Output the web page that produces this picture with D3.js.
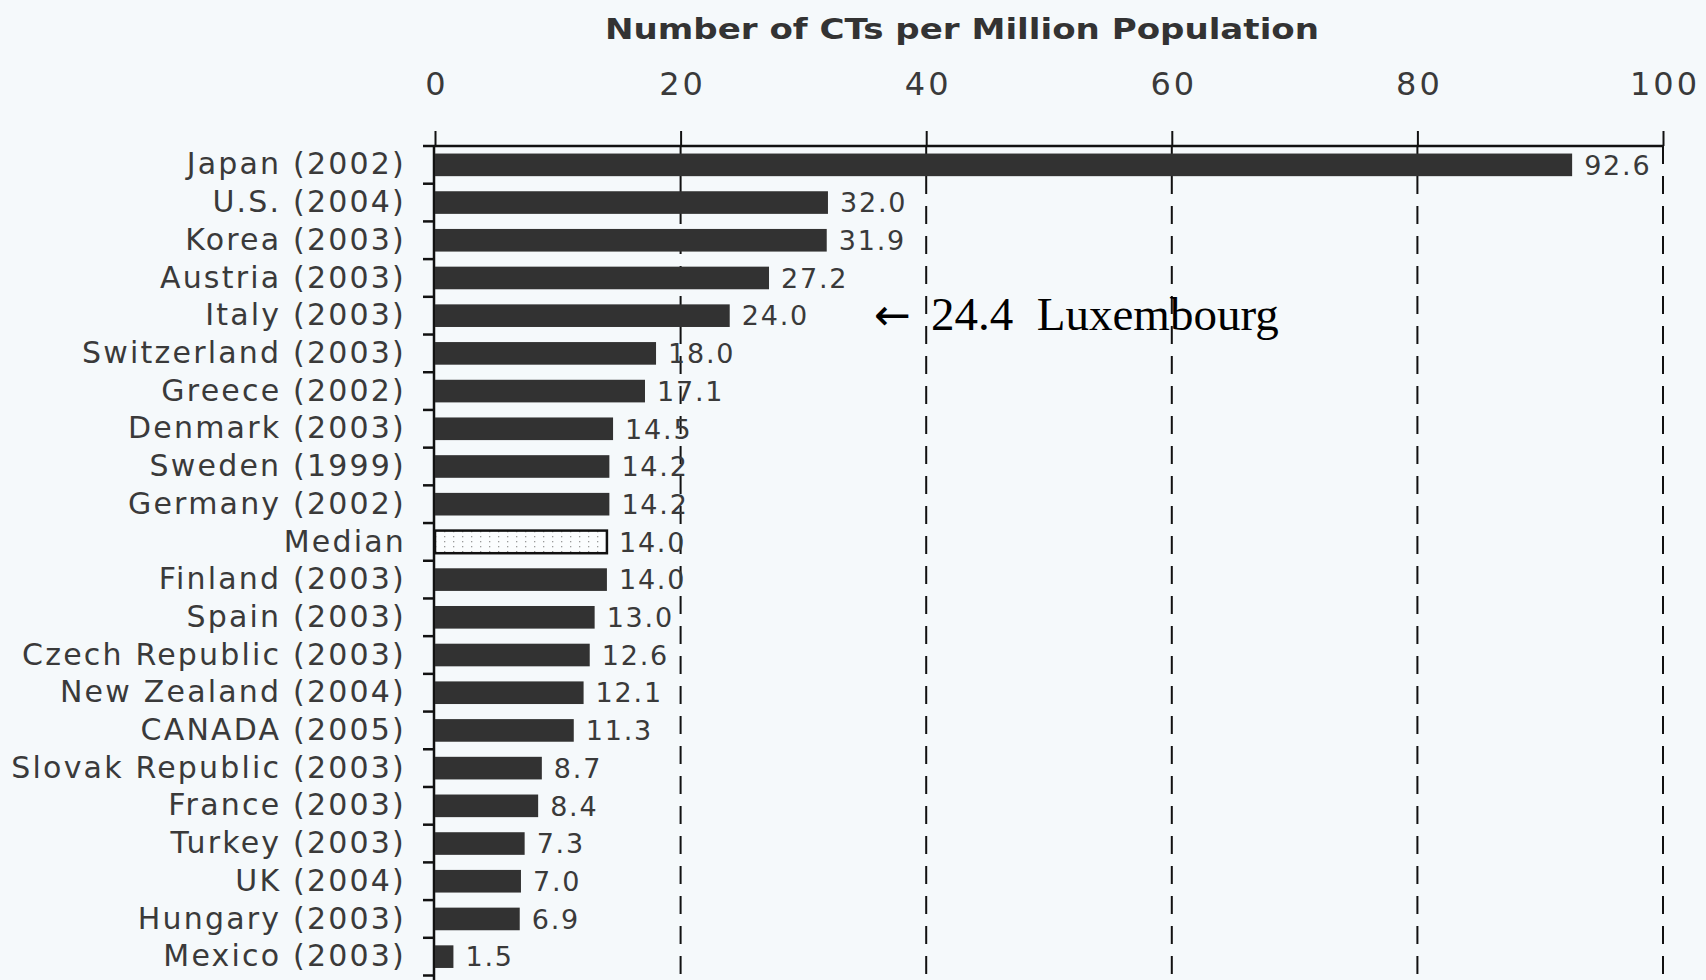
<!DOCTYPE html>
<html>
<head>
<meta charset="utf-8">
<script src="https://cdn.jsdelivr.net/npm/d3@7"></script>
<style>
  html, body { margin: 0; padding: 0; background: #f5f9fb; }
  svg { display: block; }
</style>
</head>
<body>
<script>
// ---- data ----
const categories = [
  "Japan (2002)", "U.S. (2004)", "Korea (2003)", "Austria (2003)", "Italy (2003)",
  "Switzerland (2003)", "Greece (2002)", "Denmark (2003)", "Sweden (1999)", "Germany (2002)",
  "Median", "Finland (2003)", "Spain (2003)", "Czech Republic (2003)", "New Zealand (2004)",
  "CANADA (2005)", "Slovak Republic (2003)", "France (2003)", "Turkey (2003)", "UK (2004)",
  "Hungary (2003)", "Mexico (2003)"
];
const values = [
  92.6, 32.0, 31.9, 27.2, 24.0,
  18.0, 17.1, 14.5, 14.2, 14.2,
  14.0, 14.0, 13.0, 12.6, 12.1,
  11.3, 8.7, 8.4, 7.3, 7.0,
  6.9, 1.5
];
const medianCategory = "Median";
const xTicks = [0, 20, 40, 60, 80, 100];
const title = "Number of CTs per Million Population";
const annotationValue = 24.4;
const annotationLabel = "Luxembourg";
const annotationRow = "Italy (2003)";

// ---- layout ----
const W = 1706, H = 980;
const svg = d3.select("body").append("svg").attr("width", W).attr("height", H);
svg.append("rect").attr("width", W).attr("height", H).attr("fill", "#f5f9fb");

const x = d3.scaleLinear().domain([0, 100]).range([435, 1663]);
const y = d3.scaleBand().domain(categories).range([146, 975.5]).paddingInner(0.4).paddingOuter(0.2);
const step = y.step();
const axisY = 146;
const ink = "#3a3a3a";

const defs = svg.append("defs");
const pat = defs.append("pattern").attr("id", "dots").attr("patternUnits", "userSpaceOnUse")
  .attr("width", 9).attr("height", 5);
pat.append("rect").attr("width", 9).attr("height", 5).attr("fill", "#fbfdfe");
pat.append("rect").attr("x", 3).attr("y", 1).attr("width", 1.3).attr("height", 1.3).attr("fill", "#9a9a9a");

// title
svg.append("text")
  .attr("x", 605).attr("y", 39)
  .attr("textLength", 714).attr("lengthAdjust", "spacingAndGlyphs")
  .attr("font-family", "DejaVu Sans").attr("font-weight", "bold")
  .attr("font-size", 28).attr("fill", "#333")
  .text(title);

// dashed grid lines
svg.append("g").selectAll("line").data(xTicks.filter(d => d > 0)).join("line")
  .attr("x1", d => x(d)).attr("x2", d => x(d))
  .attr("y1", axisY).attr("y2", H)
  .attr("stroke", "#111").attr("stroke-width", 2)
  .attr("stroke-dasharray", "18,12");

// top axis
const topAxis = d3.axisTop(x).tickValues(xTicks).tickSize(15).tickPadding(36).tickSizeOuter(0)
  .tickFormat(d3.format("d"));
const gTop = svg.append("g").attr("transform", `translate(0,${axisY})`).call(topAxis);
gTop.select(".domain").remove();
gTop.selectAll(".tick line").attr("stroke", "#111").attr("stroke-width", 2);
gTop.selectAll(".tick text")
  .attr("font-family", "DejaVu Sans").attr("font-size", 32)
  .attr("letter-spacing", 3).attr("fill", ink).attr("dx", 1.5);

// top axis line (extends left like a tick)
svg.append("line").attr("x1", 423).attr("x2", x(100)).attr("y1", axisY).attr("y2", axisY)
  .attr("stroke", "#111").attr("stroke-width", 2.5);

// left axis line
svg.append("line").attr("x1", x(0) - 1).attr("x2", x(0) - 1).attr("y1", axisY).attr("y2", H)
  .attr("stroke", "#111").attr("stroke-width", 2.5);

// left boundary ticks between rows
svg.append("g").selectAll("line").data(categories).join("line")
  .attr("x1", 423).attr("x2", x(0))
  .attr("y1", d => y(d) + y.bandwidth() + step * 0.2)
  .attr("y2", d => y(d) + y.bandwidth() + step * 0.2)
  .attr("stroke", "#111").attr("stroke-width", 2.5);

// category labels
const leftAxis = d3.axisLeft(y).tickSize(0).tickPadding(29);
const gLeft = svg.append("g").attr("transform", `translate(${x(0)},0)`).call(leftAxis);
gLeft.select(".domain").remove();
gLeft.selectAll(".tick text")
  .attr("font-family", "DejaVu Sans").attr("font-size", 30)
  .attr("letter-spacing", 2.2).attr("fill", ink);

// bars
const rows = categories.map((c, i) => ({ c, v: values[i] }));
svg.append("g").selectAll("rect").data(rows).join("rect")
  .attr("x", x(0)).attr("y", d => y(d.c))
  .attr("width", d => x(d.v) - x(0)).attr("height", y.bandwidth())
  .attr("fill", d => d.c === medianCategory ? "url(#dots)" : "#323232")
  .attr("stroke", d => d.c === medianCategory ? "#111" : "none")
  .attr("stroke-width", 2.5);

// value labels
svg.append("g").selectAll("text").data(rows).join("text")
  .attr("x", d => x(d.v) + 12).attr("y", d => y(d.c) + y.bandwidth() / 2)
  .attr("dy", "0.36em")
  .attr("font-family", "DejaVu Sans").attr("font-size", 27)
  .attr("letter-spacing", 1.8).attr("fill", ink)
  .text(d => d3.format(".1f")(d.v));

// Luxembourg annotation
const annY = y(annotationRow) + y.bandwidth() / 2 + 14;
svg.append("text").attr("x", 874).attr("y", annY)
  .attr("font-family", "DejaVu Sans").attr("font-size", 44).attr("fill", "#000")
  .text("\u2190");
svg.append("text").attr("x", 931).attr("y", annY)
  .attr("font-family", "Liberation Serif").attr("font-size", 47).attr("fill", "#000")
  .text(d3.format(".1f")(annotationValue) + "\u00a0\u00a0" + annotationLabel);
</script>
</body>
</html>
